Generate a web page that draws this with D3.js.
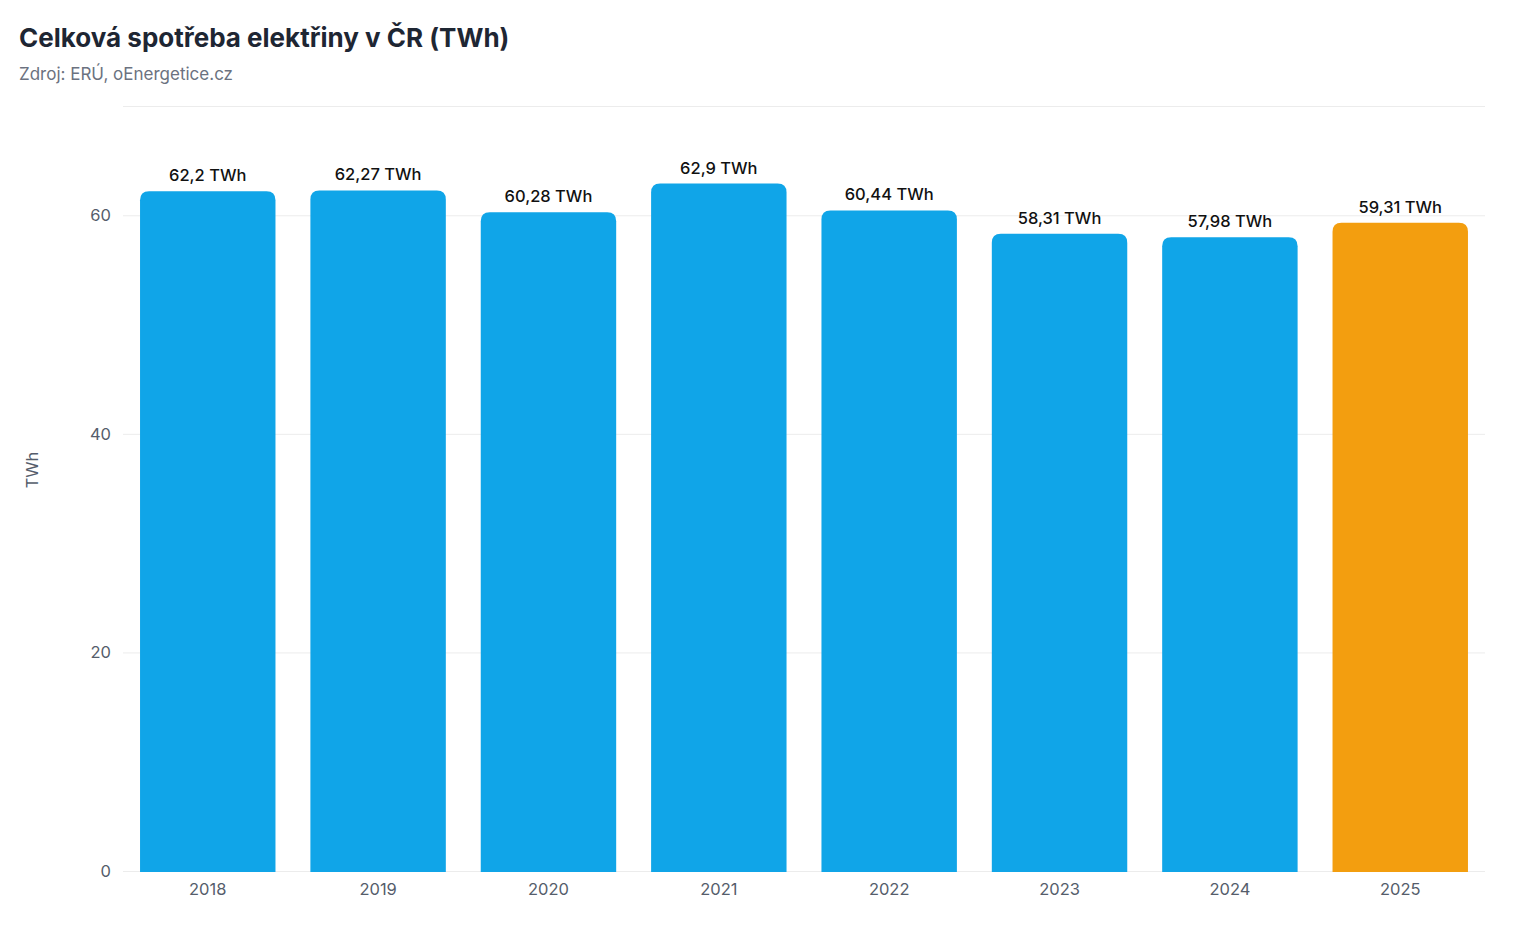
<!DOCTYPE html>
<html>
<head>
<meta charset="utf-8">
<script src="https://cdn.jsdelivr.net/npm/d3@7"></script>
<style>
  body { margin: 0; background: #fff; font-family: "Inter", "Open Sans", sans-serif; }
</style>
</head>
<body>
<div id="chart"></div>
<script>
// data
const years = ["2018", "2019", "2020", "2021", "2022", "2023", "2024", "2025"];
const consumption = [62.2, 62.27, 60.28, 62.9, 60.44, 58.31, 57.98, 59.31];
const yTicks = [0, 20, 40, 60];
const highlightYear = "2025";

const W = 1536, H = 950;
const margin = { top: 106, right: 51, bottom: 79, left: 123 };
const width = W - margin.left - margin.right;
const height = H - margin.top - margin.bottom;

const svg = d3.select("#chart").append("svg")
  .attr("width", W)
  .attr("height", H);

// title + source
svg.append("text")
  .attr("x", 19).attr("y", 47)
  .attr("font-size", 26).attr("font-weight", 700)
  .attr("fill", "#1e2633")
  .text("Celková spotřeba elektřiny v ČR (TWh)");

svg.append("text")
  .attr("x", 19).attr("y", 80)
  .attr("font-size", 17)
  .attr("fill", "#6b7280")
  .text("Zdroj: ERÚ, oEnergetice.cz");

const g = svg.append("g")
  .attr("transform", `translate(${margin.left},${margin.top})`);

const x = d3.scaleBand()
  .domain(years)
  .range([0, width])
  .paddingInner(0.205)
  .paddingOuter(0.1);

const y = d3.scaleLinear()
  .domain([0, 70])
  .range([height, 0]);

// grid lines
g.append("g")
  .selectAll("line")
  .data(yTicks.concat([70]))
  .join("line")
  .attr("x1", 0).attr("x2", width)
  .attr("y1", d => y(d) + 0.5).attr("y2", d => y(d) + 0.5)
  .attr("stroke", "#ececec")
  .attr("stroke-width", 1);

// y axis
const yAxis = g.append("g")
  .call(d3.axisLeft(y).tickValues(yTicks).tickSize(0).tickPadding(12));
yAxis.select(".domain").remove();
yAxis.selectAll("text")
  .attr("font-size", 16.5)
  .attr("font-family", "Inter, 'Open Sans', sans-serif")
  .attr("fill", "#555d6b");

svg.append("text")
  .attr("transform", `translate(38,470) rotate(-90)`)
  .attr("text-anchor", "middle")
  .attr("font-size", 16.5)
  .attr("fill", "#555d6b")
  .text("TWh");

// x axis
const xAxis = g.append("g")
  .attr("transform", `translate(0,${height})`)
  .call(d3.axisBottom(x).tickSize(0).tickPadding(12));
xAxis.select(".domain").remove();
xAxis.selectAll("text")
  .attr("font-size", 16.5)
  .attr("font-family", "Inter, 'Open Sans', sans-serif")
  .attr("fill", "#555d6b");

// bars with rounded top corners
const r = 9;
function barPath(d, i) {
  const x0 = x(years[i]), w = x.bandwidth();
  const y0 = y(d), yb = y(0) + 1;
  return `M${x0},${yb} V${y0 + r} Q${x0},${y0} ${x0 + r},${y0} H${x0 + w - r} Q${x0 + w},${y0} ${x0 + w},${y0 + r} V${yb} Z`;
}

g.append("g")
  .selectAll("path")
  .data(consumption)
  .join("path")
  .attr("d", barPath)
  .attr("fill", (d, i) => years[i] === highlightYear ? "#f39e0f" : "#10a5e8");

// value labels
const fmt = v => String(v).replace(".", ",") + " TWh";
g.append("g")
  .selectAll("text")
  .data(consumption)
  .join("text")
  .attr("x", (d, i) => x(years[i]) + x.bandwidth() / 2)
  .attr("y", d => y(d) - 10)
  .attr("text-anchor", "middle")
  .attr("font-size", 16.5)
  .attr("font-weight", 500)
  .attr("fill", "#111")
  .text(fmt);
</script>
</body>
</html>
